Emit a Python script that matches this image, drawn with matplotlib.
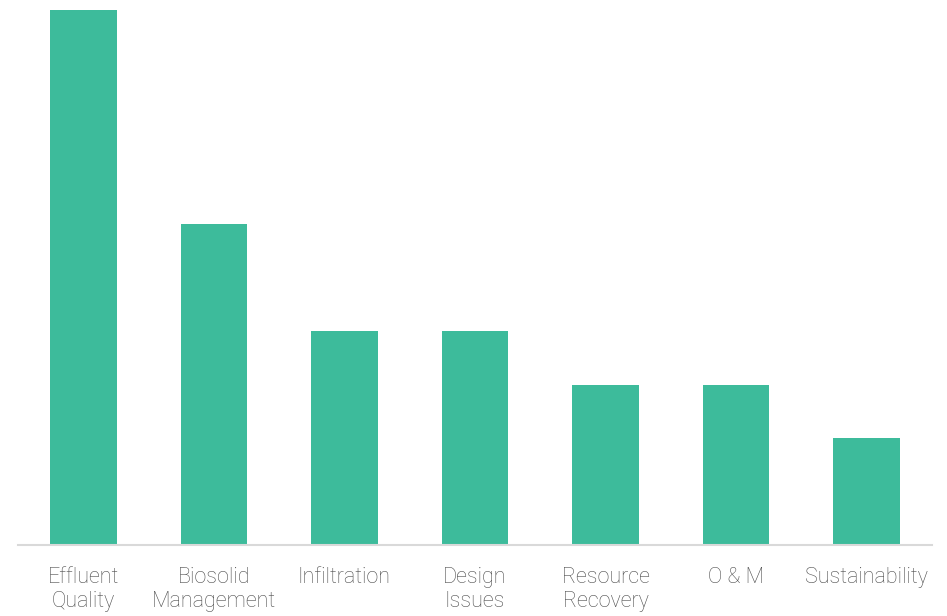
import matplotlib.pyplot as plt

categories = ["Effluent\nQuality", "Biosolid\nManagement", "Infiltration",
              "Design\nIssues", "Resource\nRecovery", "O & M", "Sustainability"]
values = [10, 6, 4, 4, 3, 3, 2]

fig = plt.figure(figsize=(9.47, 6.16), dpi=100)
ax = fig.add_axes([18 / 947, 71 / 616, 914 / 947, 535 / 616])

ax.bar(range(len(categories)), values, width=0.51, color="#3dbb9b")
ax.set_xlim(-0.5, len(categories) - 0.5)
ax.set_ylim(0, 10)

for side in ["top", "right", "left"]:
    ax.spines[side].set_visible(False)
ax.spines["bottom"].set_color("#d9d9d9")
ax.spines["bottom"].set_linewidth(1.5)
ax.set_yticks([])
ax.set_xticks(range(len(categories)))
ax.set_xticklabels(categories, fontsize=15.5, color="#4d4d4d",
                   family="Roboto", fontweight="light", linespacing=1.2)
ax.tick_params(axis="x", length=0, pad=16)

fig.savefig("out.png", dpi=100)
